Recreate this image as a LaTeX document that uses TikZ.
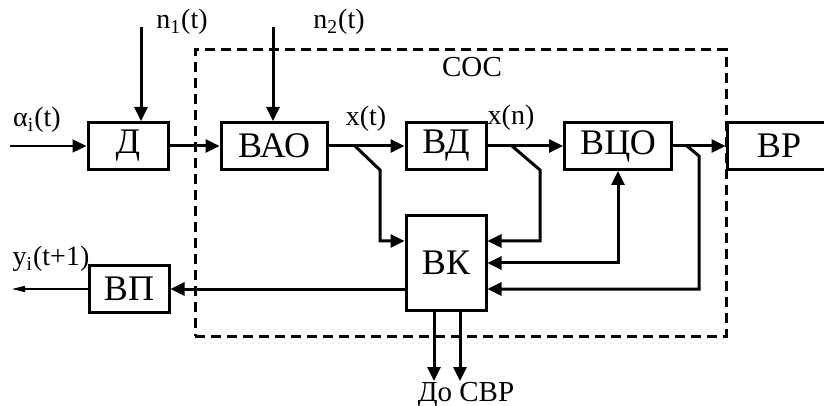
\documentclass[tikz,border=0pt]{standalone}
\usepackage{fontspec}
\setmainfont{Liberation Serif}
\usetikzlibrary{arrows.meta}

\begin{document}
\begin{tikzpicture}[x=0.5pt, y=-0.5pt,
  blk/.style  = {draw, line width=1.5pt, minimum width=40pt, minimum height=23.5pt,
                 inner sep=0pt, font=\fontsize{18}{20}\selectfont},
  sys/.style  = {draw, line width=1.5pt, dash pattern=on 5pt off 3pt,
                 minimum width=265.5pt, minimum height=143pt, inner sep=0pt},
  lbl/.style  = {inner sep=0pt, font=\fontsize{14}{16}\selectfont},
  big/.style  = {inner sep=0pt, font=\fontsize{14.5}{17}\selectfont},
  arr/.style  = {draw, line width=1.5pt, -{Triangle[length=7pt,width=6.5pt]}},
  arr2/.style = {arr, {Triangle[length=7pt,width=6.5pt]}-{Triangle[length=7pt,width=6.5pt]}},
  tarr/.style = {draw, line width=0.7pt, -{Triangle[length=7pt,width=6.5pt]}},
  tout/.style = {draw, line width=0.7pt, -{Triangle[length=6.5pt,width=3pt]}}]

\path[use as bounding box, clip] (0,0) rectangle (824,406);

% --- blocks -----------------------------------------------------------
\node[sys] (SOS) at (460.5,193) {};
\node[blk]                       (D)   at (128,146) {Д};
\node[blk, minimum width=53pt]   (VAO) at (274,146) {ВАО};
\node[blk]                       (VD)  at (446,146) {ВД};
\node[blk, minimum width=53.5pt] (VCO) at (618,146) {ВЦО};
\node[blk, minimum width=52pt]   (VR)  at (779,146) {ВР};
\node[blk, minimum height=47.5pt] (VK) at (446,263) {ВК};
\node[blk]                       (VP)  at (129,289) {ВП};

% --- free ends and branch points ---------------------------------------
\coordinate (a0) at (10,146);
\coordinate (n1) at (141,27);
\coordinate (n2) at (273,27);
\coordinate (y0) at (12,289);
\coordinate (o1) at (434,381);
\coordinate (o2) at (460,381);
\coordinate (bx) at (355,146);
\coordinate (bn) at (512,146);
\coordinate (bo) at (687,146);

% --- connectors -------------------------------------------------------
\draw[tarr] (a0) -- (D);
\draw[arr] (n1) -- (n1 |- D.north);
\draw[arr] (n2) -- (n2 |- VAO.north);
\draw[arr] (D) -- (VAO);
\draw[arr] (VAO) -- (VD);
\draw[arr] (VD) -- (VCO);
\draw[arr] (VCO) -- (VR);
\draw[arr] (bx) -- ++(25,24) |- ([yshift=11pt]VK.west);
\draw[arr] (bn) -- ++(28,24) |- ([yshift=11pt]VK.east);
\draw[arr2] (VCO.south) |- (VK.east);
\draw[arr] (bo) -- ++(12,10) |- ([yshift=-13pt]VK.east);
\draw[arr] ([yshift=-13pt]VK.west) -- (VP);
\draw[tout] (VP) -- (y0);
\draw[arr] (o1 |- VK.south) -- (o1);
\draw[arr] (o2 |- VK.south) -- (o2);

% --- labels -----------------------------------------------------------
\node[big] (lsos) at (472,67) {СОС};
\node[lbl] (la)   at (37,120)  {α\textsubscript{i}(t)};
\node[lbl] (ln1)  at (182,22)  {n\textsubscript{1}(t)};
\node[lbl] (ln2)  at (339,22)  {n\textsubscript{2}(t)};
\node[lbl] (lxt)  at (366,119) {x(t)};
\node[lbl] (lxn)  at (511,118) {x(n)};
\node[lbl] (ly)   at (51,259)  {y\textsubscript{i}(t+1)};
\node[big, anchor=base] (lsvr) at (466,401) {До СВР};
\end{tikzpicture}
\end{document}
